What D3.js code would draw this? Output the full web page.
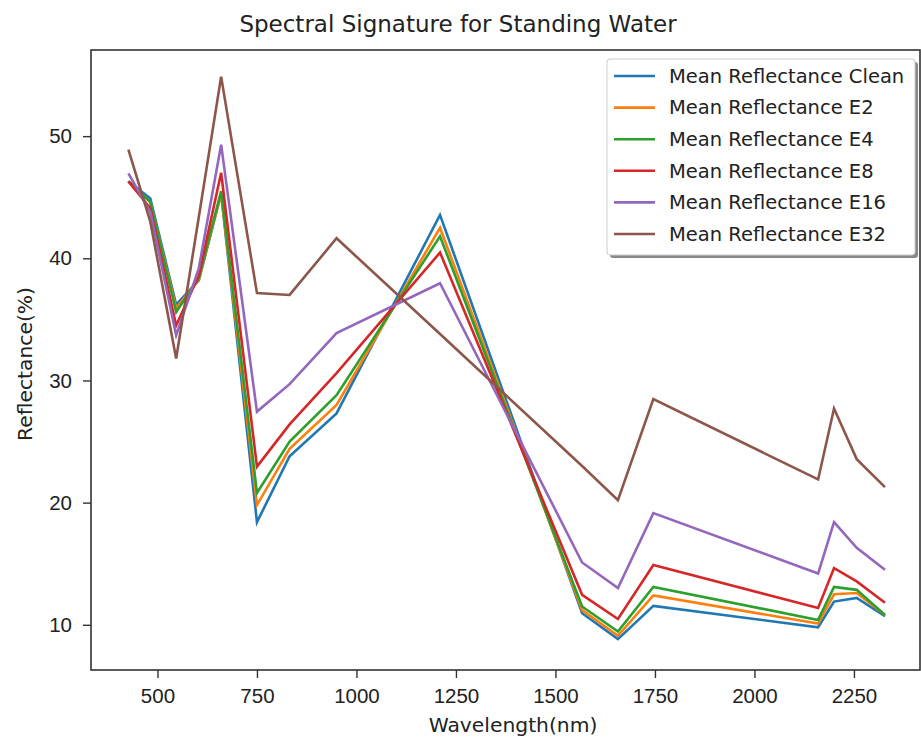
<!DOCTYPE html>
<html>
<head>
<meta charset="utf-8">
<script src="https://cdn.jsdelivr.net/npm/d3@7"></script>
<style>
  body { margin: 0; background: #fff; }
  svg { font-family: "DejaVu Sans", sans-serif; }
  .tick text { fill: #222; }
</style>
</head>
<body>
<div id="container"></div>
<script>
// band centres (nm)
const wavelengths = [427, 482, 547, 604, 660, 750, 832, 950, 1210, 1567, 1657, 1746, 2160, 2200, 2257, 2328];

const clean = [46.3, 44.9, 36.2, 38.2, 45.3, 18.4, 23.8, 27.3, 43.55, 10.95, 8.83, 11.55, 9.8, 11.9, 12.2, 10.7];
const e2 = [46.3, 44.6, 35.9, 38.3, 45.3, 19.8, 24.4, 28.0, 42.5, 11.2, 9.1, 12.4, 10.1, 12.5, 12.6, 10.8];
const e4 = [46.3, 44.6, 35.6, 38.4, 45.5, 20.8, 25.0, 28.8, 41.8, 11.5, 9.45, 13.1, 10.4, 13.1, 12.86, 10.8];
const e8 = [46.3, 44.1, 34.5, 38.6, 47.0, 22.95, 26.4, 30.6, 40.47, 12.45, 10.47, 14.9, 11.37, 14.64, 13.55, 11.8];
const e16 = [46.96, 43.8, 33.7, 39.2, 49.3, 27.45, 29.7, 33.87, 37.96, 15.1, 13.0, 19.14, 14.2, 18.4, 16.3, 14.5];
const e32 = [48.9, 43.0, 31.8, 43.4, 54.87, 37.15, 37.0, 41.64, 33.8, 23.0, 20.2, 28.47, 21.9, 27.7, 23.56, 21.27];

const seriesNames = ['Mean Reflectance Clean', 'Mean Reflectance E2', 'Mean Reflectance E4',
  'Mean Reflectance E8', 'Mean Reflectance E16', 'Mean Reflectance E32'];
const seriesValues = [clean, e2, e4, e8, e16, e32];

const xTicks = [500, 750, 1000, 1250, 1500, 1750, 2000, 2250];
const yTicks = [10, 20, 30, 40, 50];

const w = 921;
const h = 741;
const margin = { top: 50, right: 1, bottom: 71, left: 91 };

const svg = d3.select('#container')
  .append('svg')
  .attr('width', w)
  .attr('height', h);

const x = d3.scaleLinear()
  .domain([333, 2416])
  .range([margin.left, w - margin.right]);

const y = d3.scaleLinear()
  .domain([6.3, 57.05])
  .range([h - margin.bottom, margin.top]);

const color = d3.scaleOrdinal()
  .domain(seriesNames)
  .range(['#1f77b4', '#ff7f0e', '#2ca02c', '#d62728', '#9467bd', '#8c564b']);

const line = d3.line()
  .x(d => x(d[0]))
  .y(d => y(d[1]));

svg.append('g')
  .selectAll('path')
  .data(seriesNames)
  .enter()
  .append('path')
  .attr('fill', 'none')
  .attr('stroke', d => color(d))
  .attr('stroke-width', 2.6)
  .attr('stroke-linejoin', 'miter')
  .attr('d', (d, i) => line(wavelengths.map((wl, j) => [wl, seriesValues[i][j]])));

// axes box
svg.append('rect')
  .attr('x', margin.left)
  .attr('y', margin.top)
  .attr('width', w - margin.left - margin.right)
  .attr('height', h - margin.top - margin.bottom)
  .attr('fill', 'none')
  .attr('stroke', '#333')
  .attr('stroke-width', 1.6);

const xAxis = svg.append('g')
  .attr('transform', `translate(0,${h - margin.bottom})`)
  .call(d3.axisBottom(x).tickValues(xTicks).tickFormat(d3.format('d')).tickSize(8).tickPadding(10));
const yAxis = svg.append('g')
  .attr('transform', `translate(${margin.left},0)`)
  .call(d3.axisLeft(y).tickValues(yTicks).tickFormat(d3.format('d')).tickSize(8).tickPadding(11));

[xAxis, yAxis].forEach(a => {
  a.select('.domain').remove();
  a.selectAll('.tick line').attr('stroke', '#333').attr('stroke-width', 1.4);
  a.selectAll('.tick text').attr('font-size', 20.5);
});

svg.append('text')
  .attr('x', 458)
  .attr('y', 32)
  .attr('text-anchor', 'middle')
  .attr('font-size', 23)
  .attr('fill', '#222')
  .text('Spectral Signature for Standing Water');

svg.append('text')
  .attr('x', 513)
  .attr('y', 732)
  .attr('text-anchor', 'middle')
  .attr('font-size', 20.3)
  .attr('fill', '#222')
  .text('Wavelength(nm)');

svg.append('text')
  .attr('transform', 'translate(32,364) rotate(-90)')
  .attr('text-anchor', 'middle')
  .attr('font-size', 20.3)
  .attr('fill', '#222')
  .text('Reflectance(%)');

// legend
const lg = svg.append('g').attr('class', 'legend');
lg.append('rect')
  .attr('x', 610).attr('y', 62)
  .attr('width', 308).attr('height', 196)
  .attr('rx', 3)
  .attr('fill', '#888');
lg.append('rect')
  .attr('x', 607).attr('y', 59)
  .attr('width', 308).attr('height', 196)
  .attr('rx', 3)
  .attr('fill', '#fff')
  .attr('stroke', '#ccc');

const rows = lg.selectAll('g.row')
  .data(seriesNames)
  .enter()
  .append('g')
  .attr('class', 'row')
  .attr('transform', (d, i) => `translate(0,${76 + i * 31.6})`);
rows.append('line')
  .attr('x1', 614).attr('x2', 655)
  .attr('stroke', d => color(d))
  .attr('stroke-width', 2.6);
rows.append('text')
  .attr('x', 669)
  .attr('dy', '0.35em')
  .attr('font-size', 19.5)
  .attr('fill', '#222')
  .text(d => d);
</script>
</body>
</html>
